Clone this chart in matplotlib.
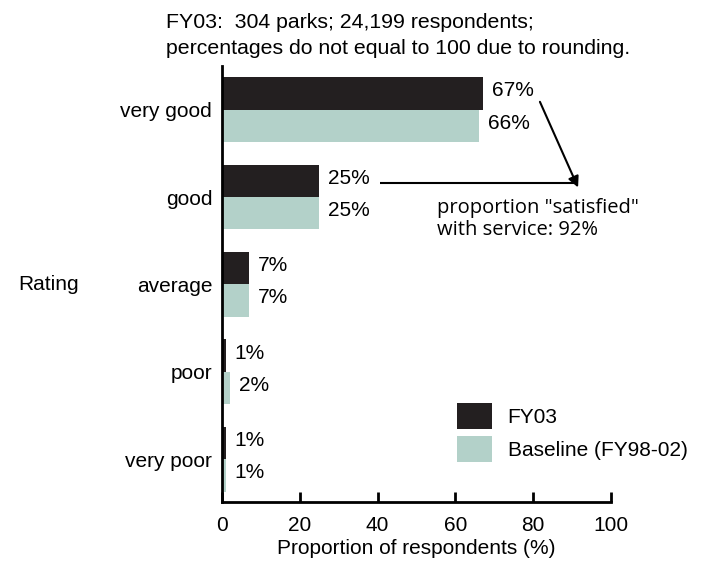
import matplotlib.pyplot as plt
import numpy as np
from matplotlib.patches import Patch

plt.rcParams['font.family'] = ['Liberation Sans', 'DejaVu Sans']

ratings = ['very good', 'good', 'average', 'poor', 'very poor']
fy03 = [67, 25, 7, 1, 1]
baseline = [66, 25, 7, 2, 1]
fy03_labels = ['67%', '25%', '7%', '1%', '1%']
base_labels = ['66%', '25%', '7%', '2%', '1%']

dark = '#231f20'
teal = '#b3d1c9'

fig = plt.figure(figsize=(7.09, 5.65), dpi=100)
ax = fig.add_axes([0.313, 0.1115, 0.549, 0.7717])

pos = np.arange(len(ratings))[::-1]
h = 0.37
ax.barh(pos + h / 2, fy03, height=h, color=dark)
ax.barh(pos - h / 2, baseline, height=h, color=teal)

for p, v, lab in zip(pos, fy03, fy03_labels):
    ax.text(v + 2.3, p + h / 2 + 0.03, lab, va='center', ha='left', fontsize=15)
for p, v, lab in zip(pos, baseline, base_labels):
    ax.text(v + 2.3, p - h / 2 + 0.03, lab, va='center', ha='left', fontsize=15)

ax.set_xlim(0, 100)
ax.set_ylim(-0.49, 4.50)
ax.set_xticks([0, 20, 40, 60, 80, 100])
ax.set_yticks(pos)
ax.set_yticklabels(ratings, fontsize=15)
ax.tick_params(axis='y', length=0, pad=7)
ax.tick_params(axis='x', direction='in', length=7, width=2, labelsize=15, pad=10)
ax.spines['top'].set_visible(False)
ax.spines['right'].set_visible(False)
ax.spines['left'].set_linewidth(2)
ax.spines['bottom'].set_linewidth(2)
ax.set_xlabel('Proportion of respondents (%)', fontsize=15, labelpad=3)

fig.text(18 / 709, 1 - 285 / 565, 'Rating', fontsize=15, va='center', ha='left')
fig.text(166 / 709, 1 - 27.5 / 565, 'FY03:  304 parks; 24,199 respondents;', fontsize=15.3, va='baseline')
fig.text(166 / 709, 1 - 54 / 565, 'percentages do not equal to 100 due to rounding.', fontsize=15.3, va='baseline')

# annotation arrows
ax.annotate('', xy=(91.5, 3.11), xytext=(81.7, 4.09),
            arrowprops=dict(arrowstyle='-|>', color='black', lw=1.5, mutation_scale=16,
                            shrinkA=0, shrinkB=0))
ax.plot([40.6, 91.0], [3.16, 3.16], color='black', lw=1.5, solid_capstyle='butt')
ax.text(55.3, 2.99, 'proportion "satisfied"\nwith service: 92%', fontsize=14.5,
        family=['Open Sans', 'DejaVu Sans'], va='top', ha='left', linespacing=1.15)

handles = [Patch(facecolor=dark, label='FY03'), Patch(facecolor=teal, label='Baseline (FY98-02)')]
ax.legend(handles=handles, loc='upper left', bbox_to_anchor=(457 / 709, 1 - 403 / 565),
          bbox_transform=fig.transFigure, frameon=False, fontsize=15,
          borderpad=0, borderaxespad=0, handlelength=1.68, handleheight=1.54,
          handletextpad=0.75, labelspacing=0.34)

fig.savefig('out.png', dpi=100)
